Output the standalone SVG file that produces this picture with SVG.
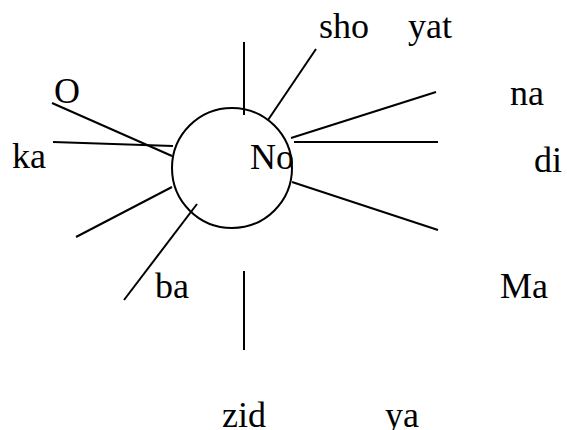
<svg xmlns="http://www.w3.org/2000/svg" width="567" height="430" viewBox="0 0 567 430">
<style>
.t{font-family:"Liberation Serif","Times New Roman",serif;font-size:36px;fill:#000}
.l{stroke:#000;stroke-width:2;fill:none}
</style>
<rect width="567" height="430" fill="#fff"/>
<g id="connectors">
<line class="l" x1="244" y1="42" x2="244" y2="115"/>
<line class="l" x1="316" y1="49" x2="268" y2="120"/>
<line class="l" x1="436" y1="92" x2="291" y2="138"/>
<line class="l" x1="294" y1="142" x2="438" y2="142"/>
<line class="l" x1="292" y1="182" x2="438" y2="230"/>
<line class="l" x1="52" y1="103" x2="172" y2="156"/>
<line class="l" x1="53" y1="142" x2="173" y2="146"/>
<line class="l" x1="172" y1="187" x2="76" y2="237"/>
<line class="l" x1="197" y1="204" x2="124" y2="300"/>
<line class="l" x1="244" y1="271" x2="244" y2="350"/>
</g>
<g id="No">
<circle class="l" cx="232" cy="168" r="60"/>
<text class="t" x="250" y="169">No</text>
</g>
<g id="sho"><text class="t" x="319" y="38">sho</text></g>
<g id="yat"><text class="t" x="408" y="38">yat</text></g>
<g id="O"><text class="t" x="54" y="103">O</text></g>
<g id="ka"><text class="t" x="12" y="168">ka</text></g>
<g id="na"><text class="t" x="510" y="105">na</text></g>
<g id="di"><text class="t" x="534" y="172">di</text></g>
<g id="ba"><text class="t" x="155" y="298">ba</text></g>
<g id="Ma"><text class="t" x="500" y="298">Ma</text></g>
<g id="zid"><text class="t" x="222" y="427">zid</text></g>
<g id="ya"><text class="t" x="385" y="427">ya</text></g>
</svg>
